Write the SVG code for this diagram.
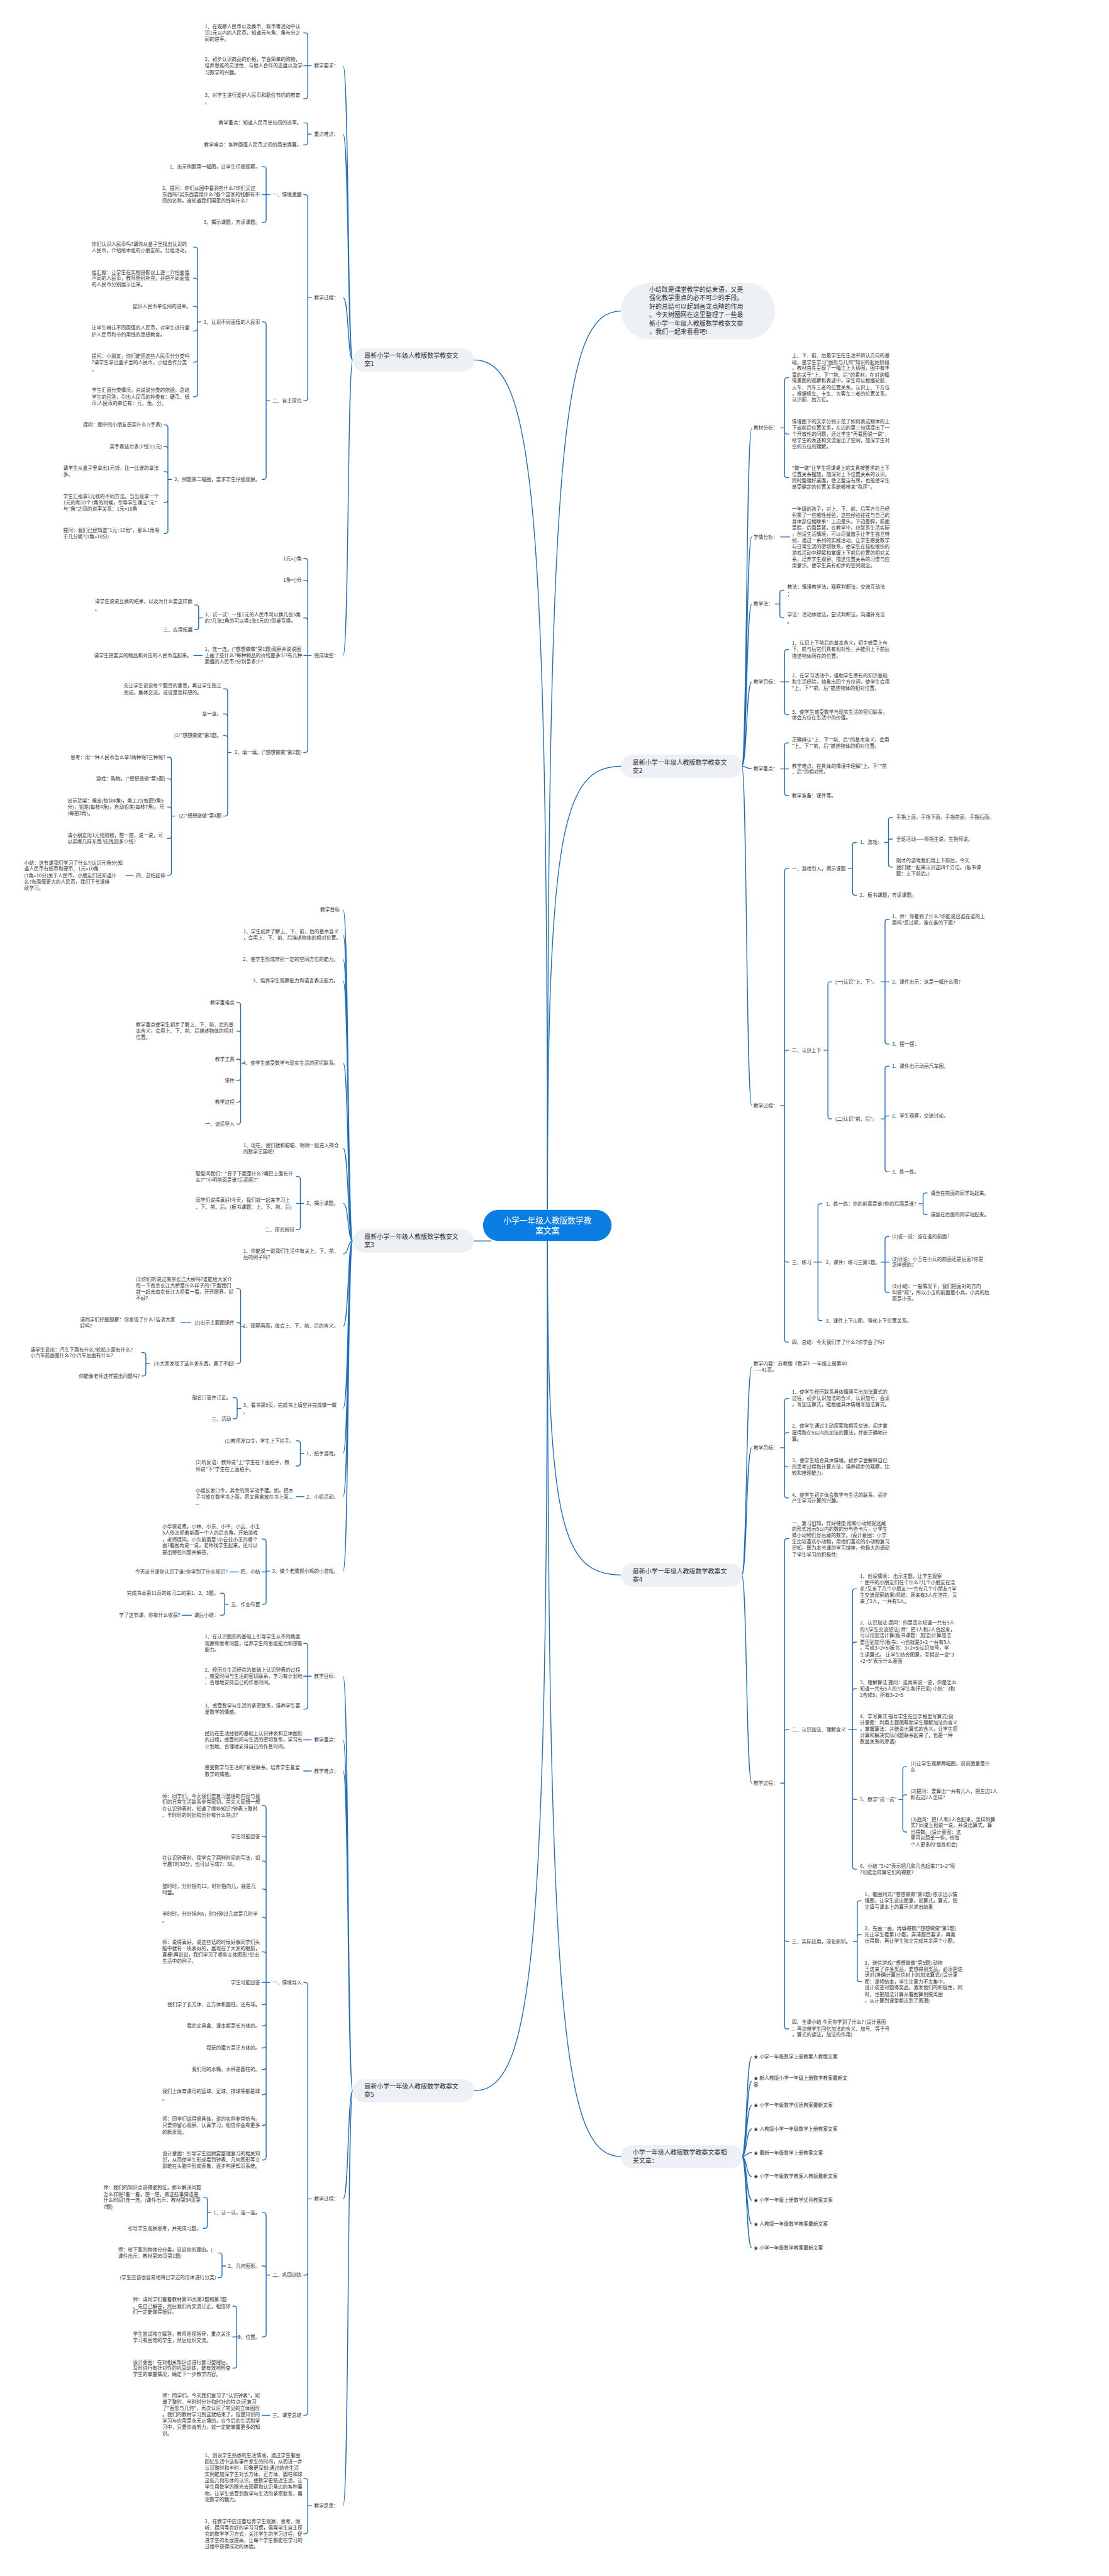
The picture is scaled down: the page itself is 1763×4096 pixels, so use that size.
<svg xmlns="http://www.w3.org/2000/svg" width="1763" height="4096" viewBox="0 0 1763 4096">
<style>
.t{font-family:"Noto Sans CJK SC","Liberation Sans",sans-serif;font-size:11.3px;fill:#333}
.e{text-anchor:end}
.n{font-size:14.5px}
.c{font-size:18.5px;fill:#fff;text-anchor:middle}
.k{fill:none;stroke:#1b6ec2;stroke-width:2}
.nb{fill:#edf1f5}
</style>
<rect width="1763" height="4096" fill="#fff"/>
<g transform="scale(0.688)">
<g id="connectors" class="k">
<path d="M1265,2795 C1265,1127 1231,832 1095,832"/>
<path d="M1265,2795 C1265,1030 1299,719 1435,719"/>
<path d="M1265,2795 C1265,1925 1299,1771 1435,1771"/>
<path d="M1095,2868 H1135"/>
<path d="M1265,2868 C1265,3524 1299,3640 1435,3640"/>
<path d="M1265,2868 C1265,4537 1231,4832 1095,4832"/>
<path d="M1265,2868 C1265,4667 1299,4984 1435,4984"/>
<path d="M815,832 C803,832 806,152 793,152 M815,832 C803,832 806,310 793,310 M815,832 C803,832 806,688 793,688 M815,832 C803,832 806,1515 793,1515"/>
<path d="M720,152H711V82Q711,76 705,76H701 M720,152H701 M711,152V222Q711,228 705,228H701"/>
<path d="M720,310H711V290Q711,284 705,284H701 M711,310V329Q711,335 705,335H701"/>
<path d="M720,688H711V456Q711,450 705,450H701 M711,688V920Q711,926 705,926H701"/>
<path d="M624,450H615V391Q615,385 609,385H605 M624,450H605 M615,450V508Q615,514 609,514H605"/>
<path d="M624,926H615V750Q615,744 609,744H605 M615,926V1102Q615,1108 609,1108H605"/>
<path d="M465,744H456V577Q456,571 450,571H446 M456,744V649Q456,643 450,643H446 M456,744V714Q456,708 450,708H446 M456,744V759Q456,765 450,765H446 M456,744V831Q456,837 450,837H446 M456,744V911Q456,917 450,917H446"/>
<path d="M397,1108H388V988Q388,982 382,982H378 M388,1108V1038Q388,1032 382,1032H378 M388,1108V1096Q388,1090 382,1090H378 M388,1108V1155Q388,1161 382,1161H378 M388,1108V1227Q388,1233 382,1233H378"/>
<path d="M720,1515H711V1297Q711,1291 705,1291H701 M711,1515V1347Q711,1341 705,1341H701 M711,1515V1434Q711,1428 705,1428H701 M720,1515H701 M711,1515V1733Q711,1739 705,1739H701"/>
<path d="M468,1428H459V1404Q459,1398 453,1398H449 M459,1428V1449Q459,1455 453,1455H449"/>
<path d="M468,1515H447"/>
<path d="M535,1739H526V1598Q526,1592 520,1592H516 M526,1739V1656Q526,1650 520,1650H516 M526,1739V1706Q526,1700 520,1700H516 M526,1739V1880Q526,1886 520,1886H516"/>
<path d="M405,1886H396V1756Q396,1750 390,1750H386 M396,1886V1806Q396,1800 390,1800H386 M396,1886V1871Q396,1865 390,1865H386 M396,1886V1932Q396,1938 390,1938H386 M396,1886V2017Q396,2023 390,2023H386"/>
<path d="M309,2023H290"/>
<path d="M815,2868 C803,2868 806,2102 793,2102 M815,2868 C803,2868 806,2160 793,2160 M815,2868 C803,2868 806,2217 793,2217 M815,2868 C803,2868 806,2267 793,2267 M815,2868 C803,2868 806,2457 793,2457 M815,2868 C803,2868 806,2654 793,2654 M815,2868 C803,2868 806,2781 793,2781 M815,2868 C803,2868 806,2898 793,2898 M815,2868 C803,2868 806,3065 793,3065 M815,2868 C803,2868 806,3255 793,3255 M815,2868 C803,2868 806,3359 793,3359 M815,2868 C803,2868 806,3459 793,3459 M815,2868 C803,2868 806,3631 793,3631"/>
<path d="M565,2457H556V2323Q556,2317 550,2317H546 M556,2457V2389Q556,2383 550,2383H546 M556,2457V2454Q556,2448 550,2448H546 M556,2457V2491Q556,2497 550,2497H546 M556,2457V2541Q556,2547 550,2547H546 M556,2457V2592Q556,2598 550,2598H546"/>
<path d="M703,2781H694V2725Q694,2719 688,2719H684 M703,2781H684 M694,2781V2836Q694,2842 688,2842H684"/>
<path d="M565,3065H556V2984Q556,2978 550,2978H546 M556,3065V3063Q556,3057 550,3057H546 M556,3065V3145Q556,3151 550,3151H546"/>
<path d="M442,3057H417"/>
<path d="M346,3151H337V3132Q337,3126 331,3126H327 M337,3151V3174Q337,3180 331,3180H327"/>
<path d="M557,3255H548V3236Q548,3230 542,3230H538 M548,3255V3273Q548,3279 542,3279H538"/>
<path d="M703,3359H694V3336Q694,3330 688,3330H684 M694,3359V3382Q694,3388 688,3388H684"/>
<path d="M703,3459H684"/>
<path d="M624,3631H615V3563Q615,3557 609,3557H605 M615,3631V3633H605 M615,3631V3702Q615,3708 609,3708H605"/>
<path d="M551,3633H530"/>
<path d="M528,3708H519V3688Q519,3682 513,3682H509 M519,3708V3727Q519,3733 513,3733H509"/>
<path d="M443,3733H420"/>
<path d="M815,4832 C803,4832 806,3874 793,3874 M815,4832 C803,4832 806,4021 793,4021 M815,4832 C803,4832 806,4093 793,4093 M815,4832 C803,4832 806,5082 793,5082 M815,4832 C803,4832 806,5791 793,5791"/>
<path d="M720,3874H711V3804Q711,3798 705,3798H701 M720,3874H701 M711,3874V3944Q711,3950 705,3950H701"/>
<path d="M720,4021H701 M720,4093H701"/>
<path d="M720,5082H711V4588Q711,4582 705,4582H701 M711,5082V5252Q711,5258 705,5258H701 M711,5082V5576Q711,5582 705,5582H701"/>
<path d="M624,4582H605 M615,4582V4179Q615,4173 609,4173H605 M615,4582V4250Q615,4244 609,4244H605 M615,4582V4307Q615,4301 609,4301H605 M615,4582V4372Q615,4366 609,4366H605 M615,4582V4437Q615,4431 609,4431H605 M615,4582V4517Q615,4511 609,4511H605 M615,4582V4627Q615,4633 609,4633H605 M615,4582V4676Q615,4682 609,4682H605 M615,4582V4727Q615,4733 609,4733H605 M615,4582V4777Q615,4783 609,4783H605 M615,4582V4835Q615,4841 609,4841H605 M615,4582V4906Q615,4912 609,4912H605 M615,4582V4986Q615,4992 609,4992H605"/>
<path d="M624,5258H615V5120Q615,5114 609,5114H605 M615,5258V5243Q615,5237 609,5237H605 M615,5258V5395Q615,5401 609,5401H605"/>
<path d="M488,5114H479V5084Q479,5078 473,5078H469 M479,5114V5144Q479,5150 473,5150H469"/>
<path d="M522,5237H513V5213Q513,5207 507,5207H503 M513,5237V5258Q513,5264 507,5264H503"/>
<path d="M556,5401H547V5336Q547,5330 541,5330H537 M556,5401H537 M547,5401V5467Q547,5473 541,5473H537"/>
<path d="M624,5582H605"/>
<path d="M720,5791H711V5734Q711,5728 705,5728H701 M711,5791V5850Q711,5856 705,5856H701"/>
<path d="M1714,1771 C1726,1771 1724,989 1737,989 M1714,1771 C1726,1771 1724,1241 1737,1241 M1714,1771 C1726,1771 1724,1396 1737,1396 M1714,1771 C1726,1771 1724,1576 1737,1576 M1714,1771 C1726,1771 1724,1777 1737,1777 M1714,1771 C1726,1771 1724,2555 1737,2555"/>
<path d="M1803,989H1813V879Q1813,873 1819,873H1823 M1813,989V997Q1813,1003 1819,1003H1823 M1813,989V1098Q1813,1104 1819,1104H1823"/>
<path d="M1803,1241H1825"/>
<path d="M1791,1396H1802V1370Q1802,1364 1808,1364H1812 M1802,1396V1422Q1802,1428 1808,1428H1812"/>
<path d="M1803,1576H1813V1507Q1813,1501 1819,1501H1823 M1803,1576H1823 M1813,1576V1646Q1813,1652 1819,1652H1823"/>
<path d="M1803,1777H1813V1723Q1813,1717 1819,1717H1823 M1803,1777H1823 M1813,1777V1833Q1813,1839 1819,1839H1823"/>
<path d="M1803,2555H1813V2013Q1813,2007 1819,2007H1823 M1813,2555V2433Q1813,2427 1819,2427H1823 M1813,2555V2911Q1813,2917 1819,2917H1823 M1813,2555V3096Q1813,3102 1819,3102H1823"/>
<path d="M1960,2007H1970V1953Q1970,1947 1976,1947H1980 M1970,2007V2063Q1970,2069 1976,2069H1980"/>
<path d="M2043,1947H2053V1895Q2053,1889 2059,1889H2063 M2053,1947V1945Q2053,1939 2059,1939H2063 M2053,1947V1998Q2053,2004 2059,2004H2063"/>
<path d="M1903,2427H1913V2275Q1913,2269 1919,2269H1923 M1913,2427V2580Q1913,2586 1919,2586H1923"/>
<path d="M2035,2269H2045V2131Q2045,2125 2051,2125H2055 M2035,2269H2055 M2045,2269V2407Q2045,2413 2051,2413H2055"/>
<path d="M2035,2586H2045V2470Q2045,2464 2051,2464H2055 M2045,2586V2585Q2045,2579 2051,2579H2055 M2045,2586V2702Q2045,2708 2051,2708H2055"/>
<path d="M1880,2917H1890V2788Q1890,2782 1896,2782H1900 M1880,2917H1900 M1890,2917V3046Q1890,3052 1896,3052H1900"/>
<path d="M2123,2782H2133V2763Q2133,2757 2139,2757H2143 M2133,2782V2801Q2133,2807 2139,2807H2143"/>
<path d="M2035,2917H2045V2864Q2045,2858 2051,2858H2055 M2035,2917H2055 M2045,2917V2981Q2045,2987 2051,2987H2055"/>
<path d="M1714,3640 C1726,3640 1724,3159 1737,3159 M1714,3640 C1726,3640 1724,3346 1737,3346 M1714,3640 C1726,3640 1724,4121 1737,4121"/>
<path d="M1803,3346H1813V3238Q1813,3232 1819,3232H1823 M1813,3346V3317Q1813,3311 1819,3311H1823 M1813,3346V3384Q1813,3390 1819,3390H1823 M1813,3346V3456Q1813,3462 1819,3462H1823"/>
<path d="M1803,4121H1813V3562Q1813,3556 1819,3556H1823 M1813,4121V4003Q1813,3997 1819,3997H1823 M1813,4121V4481Q1813,4487 1819,4487H1823 M1813,4121V4683Q1813,4689 1819,4689H1823"/>
<path d="M1960,3997H1970V3678Q1970,3672 1976,3672H1980 M1970,3997V3801Q1970,3795 1976,3795H1980 M1970,3997V3909Q1970,3903 1976,3903H1980 M1960,3997H1980 M1970,3997V4153Q1970,4159 1976,4159H1980 M1970,3997V4314Q1970,4320 1976,4320H1980"/>
<path d="M2076,4159H2086V4089Q2086,4083 2092,4083H2096 M2086,4159V4154Q2086,4148 2092,4148H2096 M2086,4159V4228Q2086,4234 2092,4234H2096"/>
<path d="M1971,4487H1981V4399Q1981,4393 1987,4393H1991 M1981,4487V4477Q1981,4471 1987,4471H1991 M1981,4487V4574Q1981,4580 1987,4580H1991"/>
<path d="M1714,4984 C1726,4984 1724,4753 1737,4753 M1714,4984 C1726,4984 1724,4810 1737,4810 M1714,4984 C1726,4984 1724,4865 1737,4865 M1714,4984 C1726,4984 1724,4920 1737,4920 M1714,4984 C1726,4984 1724,4975 1737,4975 M1714,4984 C1726,4984 1724,5030 1737,5030 M1714,4984 C1726,4984 1724,5085 1737,5085 M1714,4984 C1726,4984 1724,5140 1737,5140 M1714,4984 C1726,4984 1724,5195 1737,5195"/>
</g>

<g id="center"><rect x="1116" y="2796" width="297" height="72" rx="36" fill="#0b7ee6"/><text class="t c"><tspan x="1265" y="2827">小学一年级人教版数学教</tspan><tspan x="1265" y="2850">案文案</tspan></text></g>

<g id="intro"><rect class="nb" x="1435" y="654" width="356" height="130" rx="65"/><text class="t n"><tspan x="1500" y="675">小结既是课堂教学的结束语，又是</tspan><tspan x="1500" y="694">强化教学重点的必不可少的手段。</tspan><tspan x="1500" y="714">好的总结可以起到画龙点睛的作用</tspan><tspan x="1500" y="733">。今天树图网在这里整理了一些最</tspan><tspan x="1500" y="753">新小学一年级人教版数学教案文案</tspan><tspan x="1500" y="772">，我们一起来看看吧!</tspan></text></g>

<g id="b1"><rect class="nb" x="815" y="805" width="280" height="54" rx="27"/><text class="t n"><tspan x="842" y="827">最新小学一年级人教版数学教案文</tspan><tspan x="842" y="846">案1</tspan></text></g>
<g id="b1_req"><text class="t e" x="782" y="156">教学要求：</text></g>
<g id="b1_req1"><text class="t"><tspan x="473" y="65">1、在观察人民币以及换币、取币等活动中认</tspan><tspan x="473" y="80">识1元以内的人民币，知道元与角、角与分之</tspan><tspan x="473" y="95">间的进率。</tspan></text></g>
<g id="b1_req2"><text class="t"><tspan x="473" y="141">2、初步认识商品的价格，学会简单的购物，</tspan><tspan x="473" y="156">培养思维的灵活性、与他人合作的态度以及学</tspan><tspan x="473" y="171">习数学的兴趣。</tspan></text></g>
<g id="b1_req3"><text class="t"><tspan x="473" y="224">3、对学生进行爱护人民币和勤俭节约的教育</tspan><tspan x="473" y="240">。</tspan></text></g>
<g id="b1_key"><text class="t e" x="782" y="314">重点难点：</text></g>
<g id="b1_key1"><text class="t e" x="697" y="288">教学重点：知道人民币单位间的进率。</text></g>
<g id="b1_key2"><text class="t e" x="697" y="339">教学难点：各种面值人民币之间的简单换算。</text></g>
<g id="b1_proc"><text class="t e" x="782" y="692">教学过程：</text></g>
<g id="b1_p1"><text class="t e" x="697" y="454">一、情境激趣</text></g>
<g id="b1_p1a"><text class="t e" x="601" y="389">1、出示例题第一幅图，让学生仔细观察。</text></g>
<g id="b1_p1b"><text class="t"><tspan x="375" y="439">2、提问：你们从图中看到些什么?你们买过</tspan><tspan x="375" y="454">东西吗?买东西要用什么?各个国家的钱都有不</tspan><tspan x="375" y="468">同的名称，谁知道我们国家的钱叫什么?</tspan></text></g>
<g id="b1_p1c"><text class="t e" x="601" y="518">3、揭示课题，齐读课题。</text></g>
<g id="b1_p2"><text class="t e" x="697" y="930">二、自主探究</text></g>
<g id="b1_p2a"><text class="t e" x="601" y="748">1、认识不同面值的人民币</text></g>
<g id="b1_p2a1"><text class="t"><tspan x="212" y="568">你们认识人民币吗?请你从盒子里找出认识的</tspan><tspan x="212" y="583">人民币，介绍给本组的小朋友听。分组活动。</tspan></text></g>
<g id="b1_p2a2"><text class="t"><tspan x="212" y="633">组汇报：让学生在实物投影仪上逐一介绍面值</tspan><tspan x="212" y="647">不同的人民币，教师随机补充，并把不同面值</tspan><tspan x="212" y="662">的人民币分别展示出来。</tspan></text></g>
<g id="b1_p2a3"><text class="t e" x="442" y="712">認识人民币单位间的进率。</text></g>
<g id="b1_p2a4"><text class="t"><tspan x="212" y="762">让学生辨认不同面值的人民币，对学生进行爱</tspan><tspan x="212" y="777">护人民币和节约用钱的思想教育。</tspan></text></g>
<g id="b1_p2a5"><text class="t"><tspan x="212" y="827">提问：小朋友，你们能把这些人民币分分类吗</tspan><tspan x="212" y="841">?请学生拿出盒子里的人民币，小组合作分类</tspan><tspan x="212" y="857">。</tspan></text></g>
<g id="b1_p2a6"><text class="t"><tspan x="212" y="906">学生汇报分类情况，并说说分类的依据。总结</tspan><tspan x="212" y="921">学生的回答，引出人民币的种类有：硬币、纸</tspan><tspan x="212" y="936">币;人民币的单位有：元、角、分。</tspan></text></g>
<g id="b1_p2b"><text class="t e" x="601" y="1112">2、例题第二幅图，要求学生仔细观察。</text></g>
<g id="b1_p2b1"><text class="t e" x="374" y="986">提问：图中的小朋友想买什么?(手表)</text></g>
<g id="b1_p2b2"><text class="t e" x="374" y="1036">买手表该付多少钱?(1元)</text></g>
<g id="b1_p2b3"><text class="t"><tspan x="146" y="1086">请学生从盒子里拿出1元钱，比一比谁的拿法</tspan><tspan x="146" y="1101">多。</tspan></text></g>
<g id="b1_p2b4"><text class="t"><tspan x="146" y="1151">学生汇报拿1元钱的不同方法。当出现拿一个</tspan><tspan x="146" y="1165">1元的和10个1角的时候，引导学生建立"元"</tspan><tspan x="146" y="1180">与"角"之间的进率关系：1元=10角</tspan></text></g>
<g id="b1_p2b5"><text class="t"><tspan x="146" y="1230">提问：我们已经知道"1元=10角"，那么1角等</tspan><tspan x="146" y="1244">于几分呢?(1角=10分)</tspan></text></g>
<g id="b1_fill"><text class="t e" x="782" y="1519">完成填空：</text></g>
<g id="b1_f1"><text class="t e" x="697" y="1295">1元=()角</text></g>
<g id="b1_f2"><text class="t e" x="697" y="1345">1角=()分</text></g>
<g id="b1_f3"><text class="t"><tspan x="473" y="1424">3、试一试：一张1元的人民币可以换几张5角</tspan><tspan x="473" y="1439">的?几张2角的可以换1张1元的?同桌互换。</tspan></text></g>
<g id="b1_f3a"><text class="t"><tspan x="219" y="1394">请学生说说互换的结果，以及为什么要这样换</tspan><tspan x="219" y="1411">。</tspan></text></g>
<g id="b1_f3b"><text class="t e" x="445" y="1459">三、应用拓展</text></g>
<g id="b1_f4"><text class="t"><tspan x="473" y="1505">1、连一连。("想想做做"第1题)观察并说说图</tspan><tspan x="473" y="1519">上画了些什么?每种物品的价钱是多少?有几种</tspan><tspan x="473" y="1534">面值的人民币?分别是多少?</tspan></text></g>
<g id="b1_f4a"><text class="t e" x="443" y="1519">请学生把要买的物品和对应的人民币连起来。</text></g>
<g id="b1_f5"><text class="t e" x="697" y="1743">2、填一填。("想想做做"第2题)</text></g>
<g id="b1_f5a"><text class="t"><tspan x="286" y="1589">先让学生说说每个题目的意思，再让学生独立</tspan><tspan x="286" y="1604">完成，集体交流，说说是怎样想的。</tspan></text></g>
<g id="b1_f5b"><text class="t e" x="512" y="1654">拿一拿。</text></g>
<g id="b1_f5c"><text class="t e" x="512" y="1704">(1)"想想做做"第3题。</text></g>
<g id="b1_f5d"><text class="t e" x="512" y="1890">(2)"想想做做"第4题</text></g>
<g id="b1_f5d1"><text class="t e" x="382" y="1754">思考：用一种人民币怎么拿?两种呢?三种呢?</text></g>
<g id="b1_f5d2"><text class="t e" x="382" y="1804">游戏：购物。("想想做做"第5题)</text></g>
<g id="b1_f5d3"><text class="t"><tspan x="156" y="1854">出示货架：橡皮(每块4角)，美工刀(每把9角5</tspan><tspan x="156" y="1869">分)，铅笔(每枝4角)，自动铅笔(每枝7角)，尺</tspan><tspan x="156" y="1884">(每把3角)。</tspan></text></g>
<g id="b1_f5d4"><text class="t"><tspan x="156" y="1934">请小朋友用1元钱购物，想一想，说一说，可</tspan><tspan x="156" y="1949">以买哪几样东西?应找回多少钱?</tspan></text></g>
<g id="b1_f5d5"><text class="t e" x="382" y="2027">四、总结延伸</text></g>
<g id="b1_f5d5a"><text class="t"><tspan x="56" y="1998">小结：这节课我们学习了什么?(认识元角分)知</tspan><tspan x="56" y="2012">道人民币有纸币和硬币、1元=10角</tspan><tspan x="56" y="2027">(1角=10分)关于人民币，小朋友们还知道什</tspan><tspan x="56" y="2042">么?有面值更大的人民币，我们下节课继</tspan><tspan x="56" y="2056">续学习。</tspan></text></g>

<g id="b3"><rect class="nb" x="815" y="2841" width="280" height="54" rx="27"/><text class="t n"><tspan x="842" y="2863">最新小学一年级人教版数学教案文</tspan><tspan x="842" y="2882">案3</tspan></text></g>
<g id="b3_1"><text class="t e" x="785" y="2106">教学目标</text></g>
<g id="b3_2"><text class="t"><tspan x="562" y="2157">1、学生初步了解上、下、前、后的基本含义</tspan><tspan x="562" y="2172">，会用上、下、前、后描述物体的相对位置。</tspan></text></g>
<g id="b3_3"><text class="t e" x="782" y="2221">2、使学生形成辨别一定的空间方位的能力。</text></g>
<g id="b3_4"><text class="t e" x="782" y="2271">3、培养学生观察能力和语言表达能力。</text></g>
<g id="b3_5"><text class="t e" x="782" y="2461">4、使学生感受数学与现实生活的密切联系。</text></g>
<g id="b3_5a"><text class="t e" x="542" y="2321">教学重难点</text></g>
<g id="b3_5b"><text class="t"><tspan x="314" y="2372">教学重点使学生初步了解上、下、前、后的基</tspan><tspan x="314" y="2387">本含义，会用上、下、前、后描述物体的相对</tspan><tspan x="314" y="2401">位置。</tspan></text></g>
<g id="b3_5c"><text class="t e" x="542" y="2452">教学工具</text></g>
<g id="b3_5d"><text class="t e" x="542" y="2501">课件</text></g>
<g id="b3_5e"><text class="t e" x="542" y="2551">教学过程</text></g>
<g id="b3_5f"><text class="t e" x="542" y="2602">一、谈话导入</text></g>
<g id="b3_6"><text class="t"><tspan x="562" y="2651">1、现在，我们就和聪聪、明明一起进入神奇</tspan><tspan x="562" y="2666">的数学王国吧!</tspan></text></g>
<g id="b3_7"><text class="t e" x="782" y="2785">2、揭示课题。</text></g>
<g id="b3_7a"><text class="t"><tspan x="452" y="2716">聪聪问我们："鼻子下面是什么?嘴巴上面有什</tspan><tspan x="452" y="2731">么?""小明前面是谁?后面呢?"</tspan></text></g>
<g id="b3_7b"><text class="t"><tspan x="452" y="2778">同学们说得真好!今天，我们就一起来学习上</tspan><tspan x="452" y="2793">、下、前、后。(板书课题：上、下、前、后)</tspan></text></g>
<g id="b3_7c"><text class="t e" x="680" y="2846">二、探究新知</text></g>
<g id="b3_8"><text class="t"><tspan x="562" y="2896">1、你能说一说我们生活中有关上、下、前、</tspan><tspan x="562" y="2910">后的例子吗?</tspan></text></g>
<g id="b3_9"><text class="t e" x="782" y="3069">2、观察画面，体会上、下、前、后的含义。</text></g>
<g id="b3_9a"><text class="t"><tspan x="314" y="2961">(1)你们听说过南京长江大桥吗?谁能给大家介</tspan><tspan x="314" y="2975">绍一下南京长江大桥是什么样子的?下面我们</tspan><tspan x="314" y="2990">就一起去南京长江大桥看一看，开开眼界，好</tspan><tspan x="314" y="3004">不好?</tspan></text></g>
<g id="b3_9b"><text class="t e" x="542" y="3061">(2)出示主题图课件</text></g>
<g id="b3_9b1"><text class="t"><tspan x="185" y="3054">请同学们仔细观察：你发现了什么?告诉大家</tspan><tspan x="185" y="3068">好吗?</tspan></text></g>
<g id="b3_9c"><text class="t e" x="542" y="3155">(3)大家发现了这么多东西，真了不起!</text></g>
<g id="b3_9c1"><text class="t"><tspan x="70" y="3123">请学生说出：汽车下面有什么?轮船上面有什么?</tspan><tspan x="70" y="3137">小汽车前面是什么?小汽车后面有什么?</tspan></text></g>
<g id="b3_9c2"><text class="t e" x="323" y="3184">你能像老师这样提出问题吗?</text></g>
<g id="b3_10"><text class="t"><tspan x="562" y="3251">3、看书第9页，完成书上填空并完成做一做</tspan><tspan x="562" y="3267">。</tspan></text></g>
<g id="b3_10a"><text class="t e" x="534" y="3234">指名口答并订正。</text></g>
<g id="b3_10b"><text class="t e" x="534" y="3283">三、活动</text></g>
<g id="b3_11"><text class="t e" x="782" y="3363">1、拍手游戏。</text></g>
<g id="b3_11a"><text class="t e" x="680" y="3334">(1)教师发口令，学生上下拍手。</text></g>
<g id="b3_11b"><text class="t"><tspan x="452" y="3384">(2)听反语：教师说"上"学生在下面拍手，教</tspan><tspan x="452" y="3399">师说"下"学生在上面拍手。</tspan></text></g>
<g id="b3_12"><text class="t e" x="782" y="3463">2、小组活动。</text></g>
<g id="b3_12a"><text class="t"><tspan x="452" y="3449">小组长发口令，其余的同学动手摆。如，把本</tspan><tspan x="452" y="3463">子书放在数学书上面，把文具盒放在书上面...</tspan><tspan x="452" y="3478">...</tspan></text></g>
<g id="b3_13"><text class="t e" x="782" y="3635">3、做个老鹰抓小鸡的小游戏。</text></g>
<g id="b3_13a"><text class="t"><tspan x="375" y="3532">小华做老鹰，小林、小东、小平、小云、小玉</tspan><tspan x="375" y="3547">5人依次抓着前面一个人的后衣角，开始游戏</tspan><tspan x="375" y="3562">，老师提问，小东前面是?小云住小玉的哪个</tspan><tspan x="375" y="3576">面?看图再说一说，老师找学生起来，还可以</tspan><tspan x="375" y="3591">提出哪些问题并解答。</tspan></text></g>
<g id="b3_13b"><text class="t e" x="601" y="3637">四、小结</text></g>
<g id="b3_13b1"><text class="t e" x="526" y="3637">今天这节课你认识了谁?你学到了什么知识?</text></g>
<g id="b3_13c"><text class="t e" x="601" y="3712">五、作业布置</text></g>
<g id="b3_13c1"><text class="t e" x="505" y="3686">完成书本第11页的练习二的第1、2、3题。</text></g>
<g id="b3_13c2"><text class="t e" x="505" y="3737">课后小结：</text></g>
<g id="b3_13c3"><text class="t e" x="416" y="3737">学了这节课，你有什么收获?</text></g>

<g id="b5"><rect class="nb" x="815" y="4805" width="280" height="54" rx="27"/><text class="t n"><tspan x="842" y="4827">最新小学一年级人教版数学教案文</tspan><tspan x="842" y="4846">案5</tspan></text></g>
<g id="b5_1"><text class="t e" x="782" y="3878">教学目标：</text></g>
<g id="b5_1a"><text class="t"><tspan x="473" y="3787">1、在认识图形的基础上引导学生从不同角度</tspan><tspan x="473" y="3802">观察和思考问题，培养学生的思维能力和想象</tspan><tspan x="473" y="3817">能力。</tspan></text></g>
<g id="b5_1b"><text class="t"><tspan x="473" y="3863">2、经历在生活经验的基础上认识钟表的过程</tspan><tspan x="473" y="3878">，感受时间与生活的密切联系，学习有计划地</tspan><tspan x="473" y="3893">、合理地安排自己的作息时间。</tspan></text></g>
<g id="b5_1c"><text class="t"><tspan x="473" y="3946">3、感受数学与生活的紧密联系，培养学生喜</tspan><tspan x="473" y="3961">爱数学的情感。</tspan></text></g>
<g id="b5_2"><text class="t e" x="782" y="4025">教学重点：</text></g>
<g id="b5_2a"><text class="t"><tspan x="473" y="4010">经历在生活经验的基础上认识钟表和立体图形</tspan><tspan x="473" y="4025">的过程，感受时间与生活的密切联系，学习有</tspan><tspan x="473" y="4040">计划地、合理地安排自己的作息时间。</tspan></text></g>
<g id="b5_3"><text class="t e" x="782" y="4097">教学难点：</text></g>
<g id="b5_3a"><text class="t"><tspan x="473" y="4089">感受数学与生活的"紧密联系，培养学生喜爱</tspan><tspan x="473" y="4104">数学的情感。</tspan></text></g>
<g id="b5_4"><text class="t e" x="782" y="5086">教学过程：</text></g>
<g id="b5_4a"><text class="t e" x="697" y="4586">一、情境导入</text></g>
<g id="b5_4a1"><text class="t"><tspan x="375" y="4155">师：同学们，今天我们要复习整理的内容与我</tspan><tspan x="375" y="4169">们的日常生活联系非常密切，首先大家想一想</tspan><tspan x="375" y="4184">在认识钟表时，知道了哪些知识?钟表上整时</tspan><tspan x="375" y="4199">、半时时的时针和分针有什么特点?</tspan></text></g>
<g id="b5_4a2"><text class="t e" x="601" y="4248">学生可能回答</text></g>
<g id="b5_4a3"><text class="t"><tspan x="375" y="4298">在认识钟表时，我学会了两种时间的写法，如</tspan><tspan x="375" y="4313">早晨7时30分，也可以写成7：30。</tspan></text></g>
<g id="b5_4a4"><text class="t"><tspan x="375" y="4363">整时时，分针指向12，时针指向几，就是几</tspan><tspan x="375" y="4378">时整。</tspan></text></g>
<g id="b5_4a5"><text class="t"><tspan x="375" y="4427">半时时，分针指向6，时针刚过几就是几时半</tspan><tspan x="375" y="4444">。</tspan></text></g>
<g id="b5_4a6"><text class="t"><tspan x="375" y="4493">师：说得真好，说这些话的时候好像同学们头</tspan><tspan x="375" y="4507">脑中就有一块表似的，展现在了大家的眼前，</tspan><tspan x="375" y="4522">真棒!再说说，我们学习了哪些立体图形?举出</tspan><tspan x="375" y="4537">生活中的例子。</tspan></text></g>
<g id="b5_4a7"><text class="t e" x="601" y="4586">学生可能回答</text></g>
<g id="b5_4a8"><text class="t e" x="601" y="4637">我们学了长方体、正方体和圆柱，还有球。</text></g>
<g id="b5_4a9"><text class="t e" x="601" y="4686">我的文具盒、课本都是长方体的。</text></g>
<g id="b5_4a10"><text class="t e" x="601" y="4737">我玩的魔方是正方体的。</text></g>
<g id="b5_4a11"><text class="t e" x="601" y="4787">我们用的水桶、水杯是圆柱的。</text></g>
<g id="b5_4a12"><text class="t"><tspan x="375" y="4837">我们上体育课用的篮球、足球、排球等都是球</tspan><tspan x="375" y="4854">。</tspan></text></g>
<g id="b5_4a13"><text class="t"><tspan x="375" y="4901">师：同学们说得很具体，讲的实例非常恰当。</tspan><tspan x="375" y="4916">只要你留心观察、认真学习，相信你会有更多</tspan><tspan x="375" y="4931">的新发现。</tspan></text></g>
<g id="b5_4a14"><text class="t"><tspan x="375" y="4981">设计意图：引导学生回顾要整理复习的相关知</tspan><tspan x="375" y="4996">识，从而使学生形成看到钟表、几何图形等立</tspan><tspan x="375" y="5010">即能在头脑中形成表象，逐步构建知识系统。</tspan></text></g>
<g id="b5_4b"><text class="t e" x="697" y="5262">二、巩固训练</text></g>
<g id="b5_4b1"><text class="t e" x="601" y="5118">1、认一认，连一连。</text></g>
<g id="b5_4b1a"><text class="t"><tspan x="239" y="5060">师：我们的知识点说得很到位，那么解决问题</tspan><tspan x="239" y="5075">怎么样呢?看一看，想一想，做这些事情该是</tspan><tspan x="239" y="5089">什么时间?连一连。(课件出示：教材第94页第</tspan><tspan x="239" y="5104">7题)</tspan></text></g>
<g id="b5_4b1b"><text class="t e" x="465" y="5154">引导学生观察思考，并完成习题。</text></g>
<g id="b5_4b2"><text class="t e" x="601" y="5241">2、几何图形。</text></g>
<g id="b5_4b2a"><text class="t"><tspan x="273" y="5204">师：给下面的物体分分类，说说你的理由。(</tspan><tspan x="273" y="5218">课件出示：教材第95页第1题)</tspan></text></g>
<g id="b5_4b2b"><text class="t e" x="499" y="5268">(学生应该很容易地将已学过的形体进行分类)</text></g>
<g id="b5_4b3"><text class="t e" x="601" y="5405">3、位置。</text></g>
<g id="b5_4b3a"><text class="t"><tspan x="307" y="5319">师：请同学们看看教材第95页第2题和第3题</tspan><tspan x="307" y="5334">。先自己解答，然后我们再交流订正，相信你</tspan><tspan x="307" y="5348">们一定能做得很好。</tspan></text></g>
<g id="b5_4b3b"><text class="t"><tspan x="307" y="5398">学生尝试独立解答，教师巡视指导，重点关注</tspan><tspan x="307" y="5413">学习有困难的学生，然后组织交流。</tspan></text></g>
<g id="b5_4b3c"><text class="t"><tspan x="307" y="5463">设计意图：在对相关知识点进行复习整理后，</tspan><tspan x="307" y="5477">及时进行有针对性的巩固训练，能有效地检查</tspan><tspan x="307" y="5492">学生的掌握情况，确定下一步教学内容。</tspan></text></g>
<g id="b5_4c"><text class="t e" x="697" y="5586">三、课堂总结</text></g>
<g id="b5_4c1"><text class="t"><tspan x="375" y="5541">师：同学们，今天我们复习了"认识钟表"，知</tspan><tspan x="375" y="5555">道了整时、半时时分针和时针的特点;还复习</tspan><tspan x="375" y="5570">了"图形与几何"，再次认识了常见的立体图形</tspan><tspan x="375" y="5585">。我们的教材学习到这就结束了，但是知识的</tspan><tspan x="375" y="5599">学习与应用是永无止境的，在今后的生活和学</tspan><tspan x="375" y="5614">习中，只要你肯努力，就一定能掌握更多的知</tspan><tspan x="375" y="5628">识。</tspan></text></g>
<g id="b5_5"><text class="t e" x="782" y="5795">教学反思：</text></g>
<g id="b5_5a"><text class="t"><tspan x="473" y="5679">1、创设学生熟悉的生活情境，通过学生看图</tspan><tspan x="473" y="5694">回忆生活中这些事件发生的时间，从而进一步</tspan><tspan x="473" y="5708">认识整时和半时，印象更深刻;通过结合生活</tspan><tspan x="473" y="5723">实例能加深学生对长方体、正方体、圆柱和球</tspan><tspan x="473" y="5737">这些几何形体的认识，使数学更贴近生活，让</tspan><tspan x="473" y="5752">学生用数学的眼光去观察和认识身边的各种事</tspan><tspan x="473" y="5767">物，让学生感受到数学与生活的紧密联系，展</tspan><tspan x="473" y="5781">现数学的魅力。</tspan></text></g>
<g id="b5_5b"><text class="t"><tspan x="473" y="5831">2、在教学中应注重培养学生观察、思考、倾</tspan><tspan x="473" y="5846">听、提问等良好的学习习惯，倡导学生自主探</tspan><tspan x="473" y="5860">究的数学学习方式，关注学生的学习过程，促</tspan><tspan x="473" y="5875">进学生的发展提高，让每个学生都能在学习的</tspan><tspan x="473" y="5889">过程中获得成功的体验。</tspan></text></g>

<g id="b2"><rect class="nb" x="1435" y="1744" width="280" height="54" rx="27"/><text class="t n"><tspan x="1462" y="1767">最新小学一年级人教版数学教案文</tspan><tspan x="1462" y="1786">案2</tspan></text></g>
<g id="b2_1"><text class="t" x="1741" y="993">教材分析：</text></g>
<g id="b2_1a"><text class="t"><tspan x="1830" y="826">上、下、前、后是学生在生活中辨认方向的基</tspan><tspan x="1830" y="841">础，是学生学习"图形与几何"知识的起始阶段</tspan><tspan x="1830" y="855">。教材首先呈现了一幅江上大桥图，图中有丰</tspan><tspan x="1830" y="870">富的关于"上、下""前、后"的素材。在对这幅</tspan><tspan x="1830" y="884">情景图的观察和表述中，学生可以根据轮船、</tspan><tspan x="1830" y="899">火车、汽车三者的位置关系，认识上、下方位</tspan><tspan x="1830" y="914">，根据轿车、卡车、大客车三者的位置关系，</tspan><tspan x="1830" y="928">认识前、后方位。</tspan></text></g>
<g id="b2_1b"><text class="t"><tspan x="1830" y="978">情境图下的文字分别示范了如何表达物体的上</tspan><tspan x="1830" y="993">下或前后位置关系，左边的第三句话提出了一</tspan><tspan x="1830" y="1007">个开放性的问题，还让学生"再看图说一说"，</tspan><tspan x="1830" y="1022">给学生的表述和交流留出了空间，加深学生对</tspan><tspan x="1830" y="1036">空间方位的理解。</tspan></text></g>
<g id="b2_1c"><text class="t"><tspan x="1830" y="1086">"做一做"让学生把课桌上的文具按要求的上下</tspan><tspan x="1830" y="1101">位置关系摆放，加深对上下位置关系的认识。</tspan><tspan x="1830" y="1115">同时整理好桌面，使之整洁有序，也能使学生</tspan><tspan x="1830" y="1130">感受确定的位置关系能够带来"秩序"。</tspan></text></g>
<g id="b2_2"><text class="t" x="1741" y="1245">学情分析：</text></g>
<g id="b2_2a"><text class="t"><tspan x="1830" y="1180">一年级的孩子，对上、下、前、后等方位已经</tspan><tspan x="1830" y="1195">积累了一些感性经验，这些经验往往与自己的</tspan><tspan x="1830" y="1209">身体部位相联系：上边是头，下边是脚，前面</tspan><tspan x="1830" y="1224">是脸，后面是背。在教学中，应联系生活实际</tspan><tspan x="1830" y="1238">，创设生活情境，可以尽量放手让学生独立辨</tspan><tspan x="1830" y="1253">别，通过一系列的实践活动，让学生感受数学</tspan><tspan x="1830" y="1268">与日常生活的密切联系，使学生在轻松愉快的</tspan><tspan x="1830" y="1282">游戏活动中理解和掌握上下前后位置的相对关</tspan><tspan x="1830" y="1297">系，培养学生观察、描述位置关系的习惯与应</tspan><tspan x="1830" y="1311">用意识，使学生具有初步的空间观念。</tspan></text></g>
<g id="b2_3"><text class="t" x="1741" y="1400">教学法：</text></g>
<g id="b2_3a"><text class="t"><tspan x="1819" y="1361">教法：情境教学法，观察判断法，交流互动法</tspan><tspan x="1819" y="1376">；</tspan></text></g>
<g id="b2_3b"><text class="t"><tspan x="1819" y="1425">学法：活动体验法，尝试判断法，沟通补充法</tspan><tspan x="1819" y="1440">。</tspan></text></g>
<g id="b2_4"><text class="t" x="1741" y="1580">教学目标：</text></g>
<g id="b2_4a"><text class="t"><tspan x="1830" y="1490">1、认识上下前后的基本含义，初步感受上与</tspan><tspan x="1830" y="1505">下、前与后它们具有相对性，并能用上下前后</tspan><tspan x="1830" y="1520">描述物体所在的位置。</tspan></text></g>
<g id="b2_4b"><text class="t"><tspan x="1830" y="1565">2、在学习活动中，借助学生原有的知识基础</tspan><tspan x="1830" y="1580">和生活经验，抽象出四个方位词，使学生会用</tspan><tspan x="1830" y="1595">"上、下""前、后"描述物体的相对位置。</tspan></text></g>
<g id="b2_4c"><text class="t"><tspan x="1830" y="1649">3、使学生感受数学与现实生活的密切联系，</tspan><tspan x="1830" y="1663">体会方位在生活中的价值。</tspan></text></g>
<g id="b2_5"><text class="t" x="1741" y="1781">教学重点：</text></g>
<g id="b2_5a"><text class="t"><tspan x="1830" y="1714">正确辨认"上、下""前、后"的基本含义，会用</tspan><tspan x="1830" y="1728">"上、下""前、后"描述物体的相对位置。</tspan></text></g>
<g id="b2_5b"><text class="t"><tspan x="1830" y="1774">教学难点：在具体的情境中理解"上、下""前</tspan><tspan x="1830" y="1788">、后"的相对性。</tspan></text></g>
<g id="b2_5c"><text class="t" x="1830" y="1843">教学准备：课件等。</text></g>
<g id="b2_6"><text class="t" x="1741" y="2559">教学过程：</text></g>
<g id="b2_6a"><text class="t" x="1830" y="2011">一、游戏引入，揭示课题</text></g>
<g id="b2_6a1"><text class="t" x="1987" y="1951">1、游戏：</text></g>
<g id="b2_6a1a"><text class="t" x="2071" y="1893">手指上面，手指下面，手指前面，手指后面。</text></g>
<g id="b2_6a1b"><text class="t" x="2071" y="1943">全班活动——师指生说，生指师说。</text></g>
<g id="b2_6a1c"><text class="t"><tspan x="2071" y="1993">刚才的游戏我们用上下前后，今天</tspan><tspan x="2071" y="2008">我们就一起来认识这四个方位。(板书课</tspan><tspan x="2071" y="2023">题：上下前后。)</tspan></text></g>
<g id="b2_6a2"><text class="t" x="1987" y="2073">2、板书课题，齐读课题。</text></g>
<g id="b2_6b"><text class="t" x="1830" y="2431">二、认识上下</text></g>
<g id="b2_6b1"><text class="t" x="1930" y="2273">(一)认识"上、下"。</text></g>
<g id="b2_6b1a"><text class="t"><tspan x="2061" y="2122">1、师：你看到了什么?你能说出谁在谁的上</tspan><tspan x="2061" y="2137">面吗?反过呢，谁在谁的下面?</tspan></text></g>
<g id="b2_6b1b"><text class="t" x="2061" y="2273">2、课件出示：这是一幅什么图?</text></g>
<g id="b2_6b1c"><text class="t" x="2061" y="2417">3、摆一摆：</text></g>
<g id="b2_6b2"><text class="t" x="1930" y="2590">(二)认识"前、后"。</text></g>
<g id="b2_6b2a"><text class="t" x="2061" y="2468">1、课件出示动画汽车图。</text></g>
<g id="b2_6b2b"><text class="t" x="2061" y="2583">2、学生观察，交流讨论。</text></g>
<g id="b2_6b2c"><text class="t" x="2061" y="2712">3、练一练。</text></g>
<g id="b2_6c"><text class="t" x="1830" y="2921">三、练习</text></g>
<g id="b2_6c1"><text class="t" x="1908" y="2786">1、练一练：你的前面是谁?你的后面是谁?</text></g>
<g id="b2_6c1a"><text class="t" x="2150" y="2761">请坐在前面的同学站起来。</text></g>
<g id="b2_6c1b"><text class="t" x="2150" y="2811">请坐在后面的同学站起来。</text></g>
<g id="b2_6c2"><text class="t" x="1908" y="2921">2、课件：练习三第1题。</text></g>
<g id="b2_6c2a"><text class="t" x="2061" y="2862">(1)说一说：谁在谁的前面?</text></g>
<g id="b2_6c2b"><text class="t"><tspan x="2061" y="2914">(2)讨论：小玉在小兵的前面还是后面?你是</tspan><tspan x="2061" y="2928">怎样想的?</tspan></text></g>
<g id="b2_6c2c"><text class="t"><tspan x="2061" y="2977">(3)小结：一般情况下，我们把面对的方向</tspan><tspan x="2061" y="2991">叫做"前"，所以小玉的前面是小兵，小兵的后</tspan><tspan x="2061" y="3006">面是小玉。</tspan></text></g>
<g id="b2_6c3"><text class="t" x="1908" y="3056">3、课件上下山图，强化上下位置关系。</text></g>
<g id="b2_6d"><text class="t" x="1830" y="3106">四、总结：今天我们学了什么?你学会了吗?</text></g>

<g id="b4"><rect class="nb" x="1435" y="3613" width="280" height="54" rx="27"/><text class="t n"><tspan x="1462" y="3636">最新小学一年级人教版数学教案文</tspan><tspan x="1462" y="3655">案4</tspan></text></g>
<g id="b4_1"><text class="t"><tspan x="1741" y="3156">教学内容：苏教版《数学》一年级上册第40</tspan><tspan x="1741" y="3170">——41页。</tspan></text></g>
<g id="b4_2"><text class="t" x="1741" y="3350">教学目标：</text></g>
<g id="b4_2a"><text class="t"><tspan x="1830" y="3221">1、使学生经历联系具体情境写出加法算式的</tspan><tspan x="1830" y="3236">过程，初步认识加法的含义，认识加号，会读</tspan><tspan x="1830" y="3250">，写加法算式，能根据具体情境写加法算式。</tspan></text></g>
<g id="b4_2b"><text class="t"><tspan x="1830" y="3300">2、使学生通过主动探索和相互交流，初步掌</tspan><tspan x="1830" y="3315">握得数在5以内的加法的算法，并能正确地计</tspan><tspan x="1830" y="3330">算。</tspan></text></g>
<g id="b4_2c"><text class="t"><tspan x="1830" y="3379">3、使学生结合具体情境，初步学会解释自已</tspan><tspan x="1830" y="3394">的思考过程和计算方法，培养初步的观察，比</tspan><tspan x="1830" y="3409">较和推理能力。</tspan></text></g>
<g id="b4_2d"><text class="t"><tspan x="1830" y="3459">4、使学生初步体会数学与生活的联系，初步</tspan><tspan x="1830" y="3473">产生学习计算的兴趣。</tspan></text></g>
<g id="b4_3"><text class="t" x="1741" y="4125">教学过程：</text></g>
<g id="b4_3a"><text class="t"><tspan x="1830" y="3524">一、复习旧知，作好铺垫 用和小动物捉迷藏</tspan><tspan x="1830" y="3538">的形式出示5以内的数的分与合卡片，让学生</tspan><tspan x="1830" y="3553">猜小动物们身后藏的数字。(设计意图：小学</tspan><tspan x="1830" y="3567">生比较喜欢小动物，用他们喜欢的小动物复习</tspan><tspan x="1830" y="3582">旧知，既为本节课的学习铺垫，也极大的调动</tspan><tspan x="1830" y="3597">了学生学习的积极性)</tspan></text></g>
<g id="b4_3b"><text class="t" x="1830" y="4001">二、认识加法、理解含义</text></g>
<g id="b4_3b1"><text class="t"><tspan x="1987" y="3647">1、创设情境： 出示主题，让学生观察</tspan><tspan x="1987" y="3662">：图中的小朋友们在干什么?几个小朋友在浇</tspan><tspan x="1987" y="3676">花?又来了几个小朋友?一共有几个小朋友?(学</tspan><tspan x="1987" y="3691">生交流观察结果)师结：原来有3人在浇花，又</tspan><tspan x="1987" y="3705">来了2人，一共有5人。</tspan></text></g>
<g id="b4_3b2"><text class="t"><tspan x="1987" y="3755">2、认识加法 提问：你是怎么知道一共有5人</tspan><tspan x="1987" y="3770">的?(学生交流想法) 师：把3人和2人合起来，</tspan><tspan x="1987" y="3784">可以用加法计算(板书课题：加法)计算加法</tspan><tspan x="1987" y="3799">要用到加号(板书：+)也就是3+2 一共有5人</tspan><tspan x="1987" y="3813">。写成3+2=5(板书：3+2=5)认识加号，学</tspan><tspan x="1987" y="3828">生读算式。 让学生结合图意，互相说一说"3</tspan><tspan x="1987" y="3843">+2=5"表示什么意图</tspan></text></g>
<g id="b4_3b3"><text class="t"><tspan x="1987" y="3892">3、理解算法 提问：谁再来说一说，你是怎么</tspan><tspan x="1987" y="3907">知道一共有5人的?(学生各抒已见) 小结：3和</tspan><tspan x="1987" y="3921">2合成5，所有3+2=5</tspan></text></g>
<g id="b4_3b4"><text class="t"><tspan x="1987" y="3971">4、学写算式 指导学生在田字格里写算式(设</tspan><tspan x="1987" y="3986">计意图：利用主题图帮助学生理解加法的含义</tspan><tspan x="1987" y="4000">。掌握算法：并能说出算式的含义，让学生把</tspan><tspan x="1987" y="4015">计算和解决实际问题联系起来了，也是一种</tspan><tspan x="1987" y="4029">数量关系的渗透)</tspan></text></g>
<g id="b4_3b5"><text class="t" x="1987" y="4163">5、教学"试一试"</text></g>
<g id="b4_3b5a"><text class="t"><tspan x="2104" y="4080">(1)让学生观察两幅图，说说图意是什</tspan><tspan x="2104" y="4094">么</tspan></text></g>
<g id="b4_3b5b"><text class="t"><tspan x="2104" y="4144">(2)提问：要算出一共有几人，把左边1人</tspan><tspan x="2104" y="4159">和右边2人怎样?</tspan></text></g>
<g id="b4_3b5c"><text class="t"><tspan x="2104" y="4209">(3)追问：把1人和2人合起来，怎样列算</tspan><tspan x="2104" y="4223">式? 同桌互相说一说，并说出算式，算</tspan><tspan x="2104" y="4238">出得数。(设计意图：这</tspan><tspan x="2104" y="4252">里可以简单一些，给每</tspan><tspan x="2104" y="4267">个人更多的'锻炼机会)</tspan></text></g>
<g id="b4_3b6"><text class="t"><tspan x="1987" y="4317">6、小结 "3+2"表示把几和几合起来?"1+2"呢</tspan><tspan x="1987" y="4332">?可能怎样算它们的得数?</tspan></text></g>
<g id="b4_3c"><text class="t" x="1830" y="4491">三、实际应用，深化新知。</text></g>
<g id="b4_3c1"><text class="t"><tspan x="1998" y="4382">1、看图列式("想想做做"第1题) 依次出示情</tspan><tspan x="1998" y="4397">境图，让学生说出图意，说算式，算式，独</tspan><tspan x="1998" y="4412">立填写课本上的算示并求出结果</tspan></text></g>
<g id="b4_3c2"><text class="t"><tspan x="1998" y="4461">2、先画一画，再填得数("想想做做"第2题)</tspan><tspan x="1998" y="4475">先让学生看第1小题，弄清题目要求，再画</tspan><tspan x="1998" y="4490">出得数，再让学生独立完成其余两个小题。</tspan></text></g>
<g id="b4_3c3"><text class="t"><tspan x="1998" y="4540">3、送信游戏("想想做做"第5题) 动物</tspan><tspan x="1998" y="4555">王送来了许多奖品，要想得到奖品，必须把信</tspan><tspan x="1998" y="4569">送对(准确计算出信封上的加法算式)(设计意</tspan><tspan x="1998" y="4584">图：课将结束，学生注意力不太集中，</tspan><tspan x="1998" y="4598">设计成答对题得奖品，激发他们的积极性，同</tspan><tspan x="1998" y="4613">时，也把加法计算从看图算到脱离图</tspan><tspan x="1998" y="4628">，从计算到课堂都达到了高潮)</tspan></text></g>
<g id="b4_3d"><text class="t"><tspan x="1830" y="4678">四、全课小结 今天你学到了什么? (设计意图</tspan><tspan x="1830" y="4693">：再次带学生回忆加法的含义、加号、等于号</tspan><tspan x="1830" y="4707">，算式的读法，加法的作用)</tspan></text></g>

<g id="b6"><rect class="nb" x="1435" y="4957" width="280" height="54" rx="27"/><text class="t n"><tspan x="1462" y="4979">小学一年级人教版数学教案文案相</tspan><tspan x="1462" y="4998">关文章：</tspan></text></g>
<g id="b6_1"><text class="t" x="1741" y="4757">★ 小学一年级数学上册教案人教版文案</text></g>
<g id="b6_2"><text class="t"><tspan x="1741" y="4807">★ 新人教版小学一年级上册数学教案最新文</tspan><tspan x="1741" y="4822">案</tspan></text></g>
<g id="b6_3"><text class="t" x="1741" y="4869">★ 小学一年级数学优质教案最新文案</text></g>
<g id="b6_4"><text class="t" x="1741" y="4924">★ 人教版小学一年级数学上册教案文案</text></g>
<g id="b6_5"><text class="t" x="1741" y="4979">★ 最新一年级数学上册教案文案</text></g>
<g id="b6_6"><text class="t" x="1741" y="5034">★ 小学一年级数学教案人教版最新文案</text></g>
<g id="b6_7"><text class="t" x="1741" y="5089">★ 小学一年级上册数学优秀教案文案</text></g>
<g id="b6_8"><text class="t" x="1741" y="5144">★ 人教版一年级数学教案最新文案</text></g>
<g id="b6_9"><text class="t" x="1741" y="5199">★ 小学一年级数学教案最新文案</text></g>
</g>
</svg>
